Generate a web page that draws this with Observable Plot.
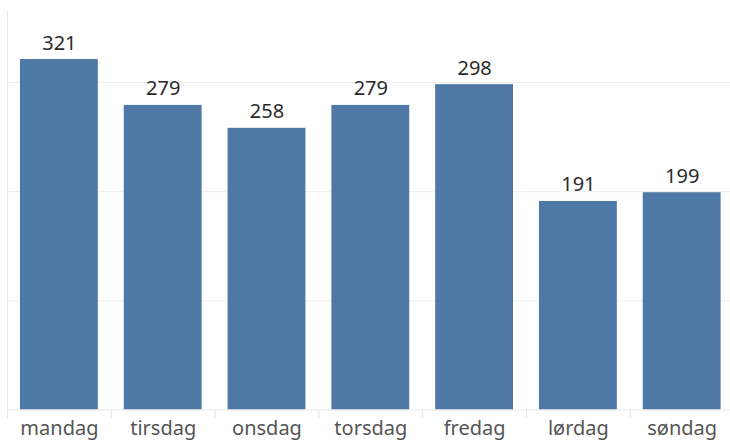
<!DOCTYPE html>
<html><head><meta charset="utf-8">
<script src="https://cdn.jsdelivr.net/npm/d3@7"></script>
<script src="https://cdn.jsdelivr.net/npm/@observablehq/plot@0.6"></script>
<style>body{margin:0;background:#fff} svg{display:block}</style>
</head><body><div id="chart"></div>
<script>
const days = ["mandag","tirsdag","onsdag","torsdag","fredag","lørdag","søndag"];
const counts = [321,279,258,279,298,191,199];
const gridValues = [100,200,300];
const data = days.map((d,i)=>({day:d,count:counts[i]}));
const step = (733.6-7)/7;
const chart = Plot.plot({
  width:730, height:441, marginLeft:7, marginRight:0, marginTop:11, marginBottom:32,
  style:{fontFamily:"Noto Sans", background:"#fff", overflow:"hidden"},
  x:{domain:days, range:[7,733.6], paddingInner:0.25, paddingOuter:0.125, round:false, axis:null},
  y:{domain:[0,365], range:[409.5,11], axis:null},
  marks:[
    Plot.ruleY(gridValues,{stroke:"#efefef", strokeWidth:1}),
    Plot.frame({anchor:"left", stroke:"#e8e8e8"}),
    Plot.barY(data,{x:"day",y:"count",fill:"#4e79a7"}),
    Plot.ruleY([0],{stroke:"#e8e8e8"}),
    Plot.text(data,{x:"day",y:"count",text:d=>String(d.count),lineAnchor:"bottom",dy:-10,fontSize:20,fill:"#2b2b2b"}),
    Plot.axisX({tickSize:9, dx:-step/2, text:null, label:null, stroke:"#e6e6e6", strokeOpacity:1}),
    Plot.axisX({tickSize:0, tickPadding:11, fontSize:20, fill:"#555", label:null})
  ]
});
document.getElementById("chart").appendChild(chart);
</script></body></html>
